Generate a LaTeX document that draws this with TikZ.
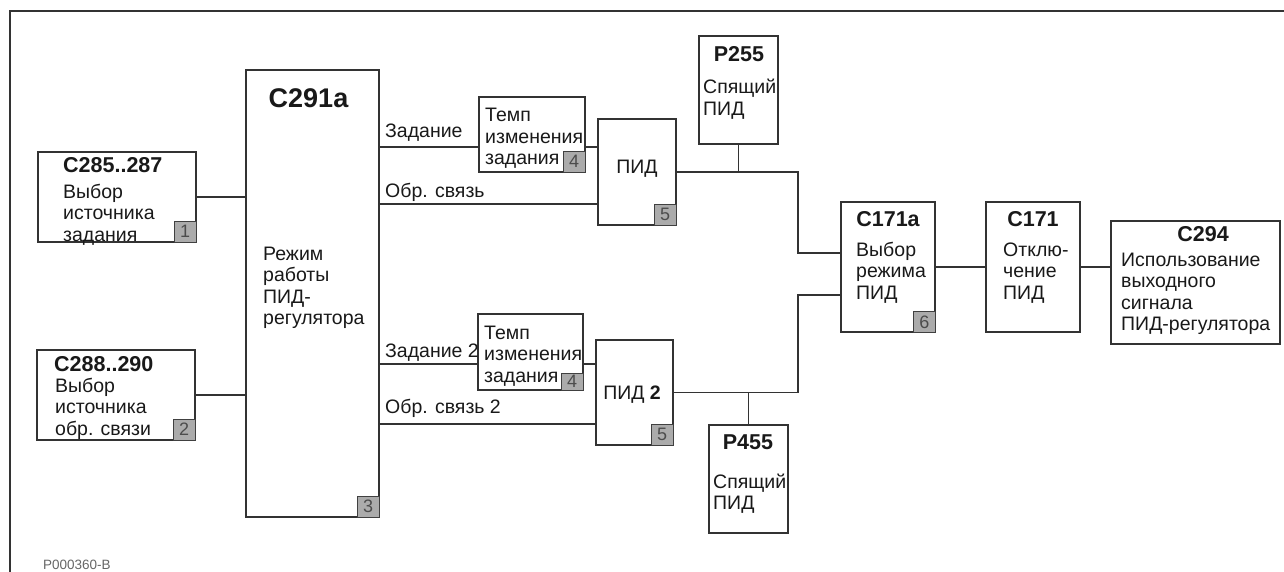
\documentclass[tikz,border=0pt]{standalone}
\usepackage{fontspec}
\setmainfont{Liberation Sans}
\begin{document}
\begin{tikzpicture}[x=1pt,y=-1pt,
  box/.style={draw=black!80, line width=1.4pt, fill=white, inner sep=0pt},
  conn/.style={draw=black!80, line width=1.3pt},
  frame/.style={draw=black!80, line width=1.5pt},
  badge/.style={draw=black!75, line width=1.1pt, fill=black!33, inner sep=0pt,
    minimum width=22pt, minimum height=21pt, anchor=south east,
    font=\fontsize{18}{18}\selectfont, text=black!70},
  txt/.style={inner sep=0pt, font=\fontsize{19.5}{21}\selectfont, text=black!90},
  hdr/.style={inner sep=0pt, font=\bfseries\fontsize{21.5}{23}\selectfont, text=black!90},
  lbl/.style={inner sep=0pt, font=\fontsize{19.5}{21}\selectfont, text=black!90, anchor=base west}]
\newcommand\txtlines[4]{\foreach \t [count=\i] in {#4} {\node[txt,anchor=base west] (#1\i) at (#2,{#3+21.5*(\i-1)}) {\t};}}
\useasboundingbox (0,0) rectangle (1284,572);
% frame
\draw[frame] (10,572) -- (10,11) -- (1284,11);
% boxes
\node[box, minimum width=158pt, minimum height=90pt] (b1) at (117,197) {};
\node[box, minimum width=158pt, minimum height=90pt] (b2) at (116,395) {};
\node[box, minimum width=133pt, minimum height=447pt] (c291) at (312.5,293.5) {};
\node[box, minimum width=106pt, minimum height=75pt] (temp1) at (532,134.5) {};
\node[box, minimum width=78pt, minimum height=106pt] (pid1) at (637,172) {};
\node[box, minimum width=79pt, minimum height=108pt] (p255) at (738.5,90) {};
\node[box, minimum width=105pt, minimum height=76pt] (temp2) at (530.5,352) {};
\node[box, minimum width=77pt, minimum height=105pt] (pid2) at (634.5,392.5) {};
\node[box, minimum width=79pt, minimum height=108pt] (p455) at (748.5,479) {};
\node[box, line width=2pt, minimum width=94pt, minimum height=130pt] (c171a) at (888,267) {};
\node[box, minimum width=94pt, minimum height=130pt] (c171) at (1033,267) {};
\node[box, minimum width=169pt, minimum height=123pt] (c294) at (1195.5,282.5) {};
% badges
\node[badge] (g1) at (b1.south east) {1};
\node[badge] (g2) at (b2.south east) {2};
\node[badge] (g3) at (c291.south east) {3};
\node[badge] (g4a) at (temp1.south east) {4};
\node[badge, minimum height=17pt] (g4b) at (temp2.south east) {4};
\node[badge] (g5a) at (pid1.south east) {5};
\node[badge] (g5b) at (pid2.south east) {5};
\node[badge] (g6) at (c171a.south east) {6};
% texts
\node[hdr, anchor=base west] (b1h) at (63,173) {C285..287};
\txtlines{b1l}{63}{198}{Выбор,источника,задания}
\node[hdr, anchor=base west] (b2h) at (54,371) {C288..290};
\txtlines{b2l}{55}{392}{Выбор,источника,обр. связи}
\node[hdr, anchor=base, font=\bfseries\fontsize{27}{29}\selectfont] (c291h) at (308.5,108) {C291a};
\txtlines{c291l}{263}{260}{Режим,работы,ПИД-,регулятора}
\txtlines{t1l}{485}{122}{Темп,изменения,задания}
\txtlines{t2l}{484}{339}{Темп,изменения,задания}
\node[txt, anchor=base] (pid1t) at (637,174) {ПИД};
\node[txt, anchor=base] (pid2t) at (632,399) {ПИД \textbf{2}};
\node[hdr, anchor=base] (p255h) at (739,62) {P255};
\txtlines{p255l}{703}{94}{Спящий,ПИД}
\node[hdr, anchor=base] (p455h) at (748,449) {P455};
\txtlines{p455l}{713}{488}{Спящий,ПИД}
\node[hdr, anchor=base] (c171ah) at (888,226) {C171a};
\txtlines{c171al}{856}{256}{Выбор,режима,ПИД}
\node[hdr, anchor=base] (c171h) at (1033,226) {C171};
\txtlines{c171l}{1003}{256}{Отклю-,чение,ПИД}
\node[hdr, anchor=base] (c294h) at (1203,241) {C294};
\txtlines{c294l}{1121}{266}{Использование,выходного,сигнала,ПИД-регулятора}
\node[inner sep=0pt, anchor=base west, font=\fontsize{13.5}{14}\selectfont, text=black!60] (code) at (43,569) {P000360-B};
% connectors
\coordinate (y1) at (0,147);
\coordinate (y2) at (0,204);
\coordinate (y3) at (0,364);
\coordinate (y4) at (0,424);
\coordinate (y5) at (0,253);
\coordinate (y6) at (0,295);
\coordinate (bus) at (798,0);
\draw[conn] (b1.east) -- (b1.east -| c291.west);
\draw[conn] (b2.east) -- (b2.east -| c291.west);
\draw[conn] (c291.east |- y1) -- (temp1.west |- y1);
\draw[conn] (temp1.east |- y1) -- (pid1.west |- y1);
\draw[conn] (c291.east |- y2) -- (pid1.west |- y2);
\draw[conn] (c291.east |- y3) -- (temp2.west |- y3);
\draw[conn] (temp2.east |- y3) -- (pid2.west |- y3);
\draw[conn] (c291.east |- y4) -- (pid2.west |- y4);
\draw[conn] (pid1.east) -- (pid1.east -| bus) -- (bus |- y5) -- (c171a.west |- y5);
\draw[conn] (pid2.east) -- (pid2.east -| bus) -- (bus |- y6) -- (c171a.west |- y6);
\draw[conn] (p255.south) -- (p255.south |- pid1.east);
\draw[conn] (p455.north) -- (p455.north |- pid2.east);
\draw[conn] (c171a.east) -- (c171.west);
\draw[conn] (c171.east) -- (c171.east -| c294.west);
% connector labels
\node[lbl] (lz1) at (385,138) {Задание};
\node[lbl] (lo1) at (385,197) {Обр. связь};
\node[lbl] (lz2) at (385,357) {Задание 2};
\node[lbl] (lo2) at (385,413) {Обр. связь 2};
\end{tikzpicture}
\end{document}
